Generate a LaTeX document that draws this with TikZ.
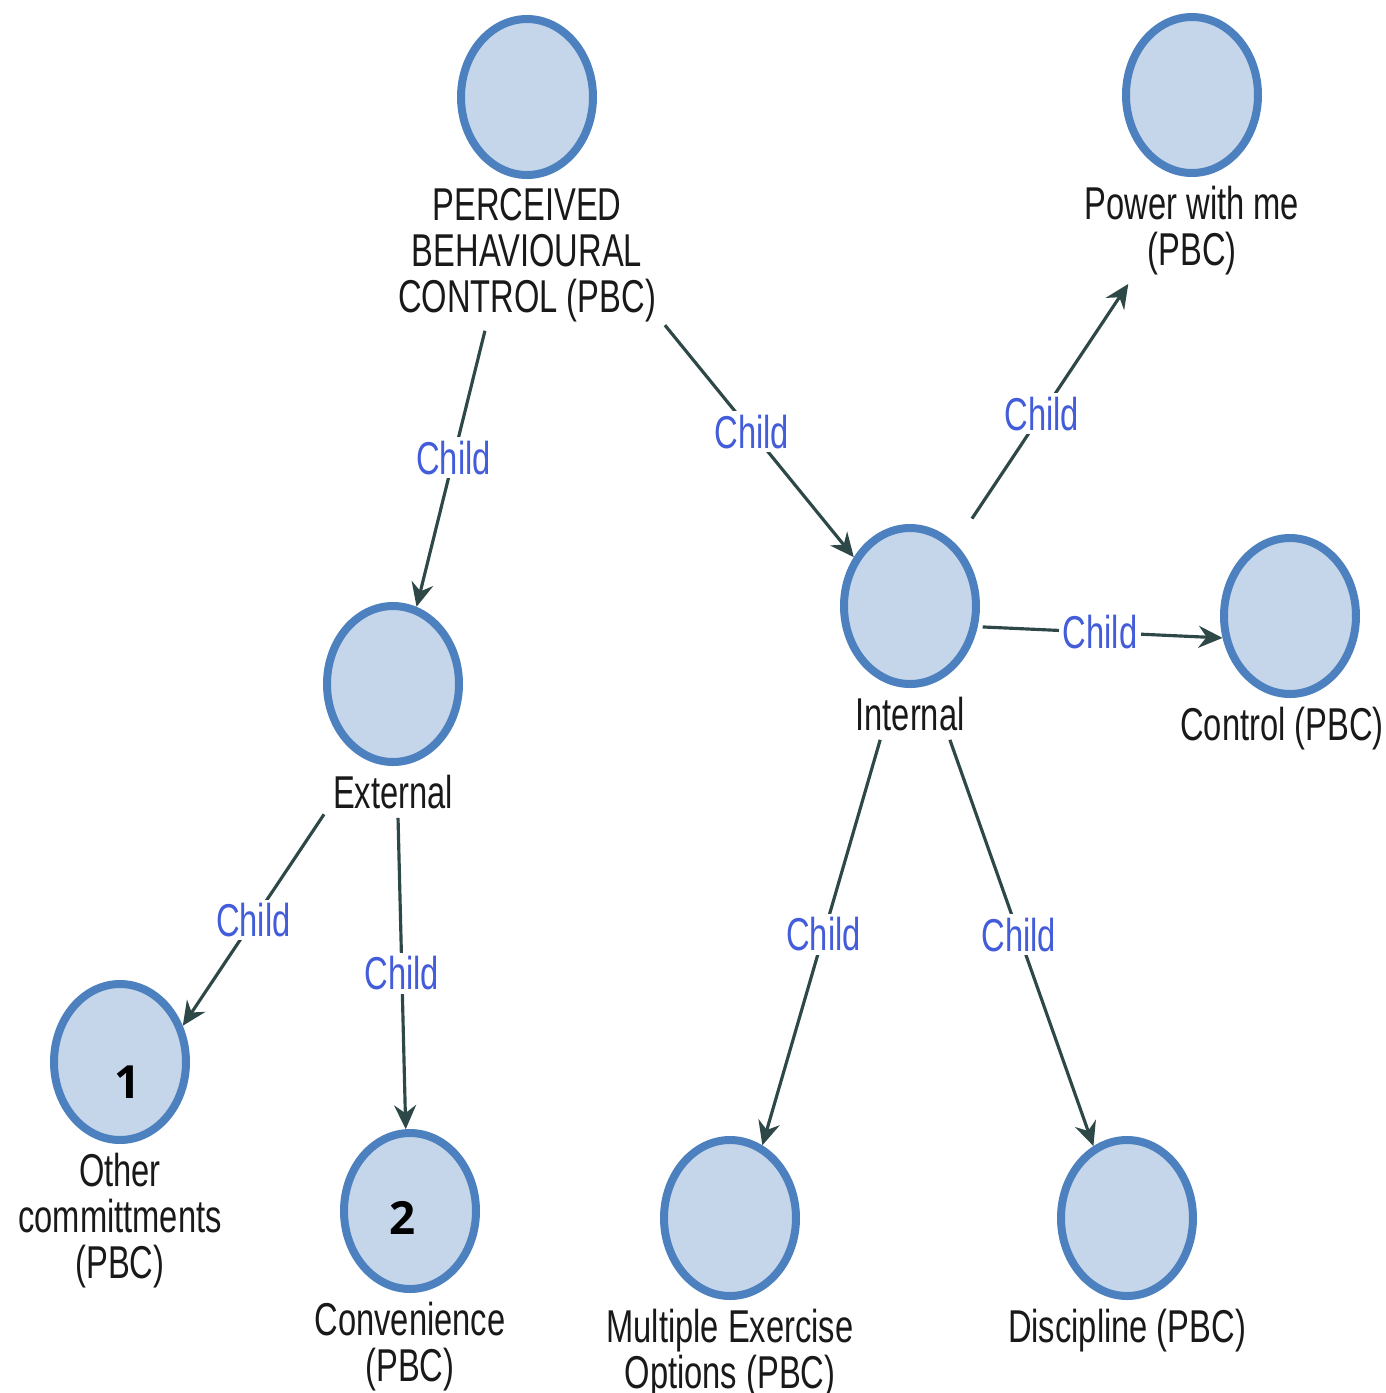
\documentclass[tikz,border=0pt]{standalone}
\usepackage{fontspec}
\setmainfont{Liberation Sans}[FakeStretch=0.71]
\newfontfamily\numfont{Open Sans}
\usetikzlibrary{arrows.meta,shapes.geometric,positioning}
\definecolor{ballfill}{RGB}{197,214,234}
\definecolor{balldraw}{RGB}{76,128,190}
\definecolor{edgecol}{RGB}{46,72,72}
\definecolor{childcol}{RGB}{66,92,218}

\begin{document}
\begin{tikzpicture}[
    ball/.style={ellipse, draw=balldraw, fill=ballfill, line width=0.08cm,
       minimum width=1.32cm, minimum height=1.56cm},
    lbl/.style={align=center, inner sep=0pt, outer sep=0.09cm, text=black!90,
       font=\fontsize{13.1pt}{13.1pt}\selectfont},
    num/.style={font=\numfont\bfseries\fontsize{13pt}{13pt}\selectfont}
  ]
    \useasboundingbox (0,0) rectangle (13.86,-13.93);

    %Circles
     \node[ball] (pbc) at (5.27,-0.97) {};
     \node[ball] (power) at (11.92,-0.95) {};
     \node[ball] (intl) at (9.10,-6.06) {};
     \node[ball] (ctrl) at (12.90,-6.16) {};
     \node[ball] (ext) at (3.93,-6.84) {};
     \node[ball] (other) at (1.20,-10.62) {};
     \node[ball] (conv) at (4.10,-12.11) {};
     \node[ball] (mult) at (7.30,-12.18) {};
     \node[ball] (disc) at (11.27,-12.18) {};

    %Labels
     \node[lbl, below=0pt of pbc] (pbcl) {PERCEIVED\\BEHAVIOURAL\\CONTROL (PBC)};
     \node[lbl, below=0pt of power] (powerl) {Power with me\\(PBC)};
     \node[lbl, below=0pt of intl] (intll) {Internal};
     \node[lbl, below=0pt of ctrl, xshift=-0.08cm] (ctrll) {Control (PBC)};
     \node[lbl, below=0pt of ext] (extl) {External};
     \node[lbl, below=0pt of other] (otherl) {Other\\committments\\(PBC)};
     \node[lbl, below=0pt of conv] (convl) {Convenience\\(PBC)};
     \node[lbl, below=0pt of mult] (multl) {Multiple Exercise\\Options (PBC)};
     \node[lbl, below=0pt of disc] (discl) {Discipline (PBC)};

     \node[num] (n1) at (1.28,-10.82) {1};
     \node[num] (n2) at (4.03,-12.18) {2};

    %Edges
    \begin{scope}[every edge/.style={draw=edgecol, line width=0.9pt,
       -{Stealth[length=0.24cm,width=0.22cm,inset=0.08cm]}},
       every node/.style={fill=white, inner sep=1pt, text=childcol,
       font=\fontsize{13.1pt}{13.1pt}\selectfont}]
      \path (pbcl.-119) edge node[pos=0.46] {Child} (ext.73);
      \path (pbcl.-27) edge node[pos=0.46] {Child} (intl.139);
      \path[shorten <=0.3cm] (intl.54) edge node {Child} (powerl.-140);
      \path[shorten <=0.05cm] (intl.-17) edge node {Child} (ctrl.198);
      \path (extl.-162) edge node {Child} (other.30);
      \path (extl.-79) edge node {Child} (conv.93);
      \path (intll.-139) edge node[pos=0.48] {Child} (mult.66);
      \path (intll.-33) edge node[pos=0.48] {Child} (disc.115);
    \end{scope}
  \end{tikzpicture}
\end{document}
